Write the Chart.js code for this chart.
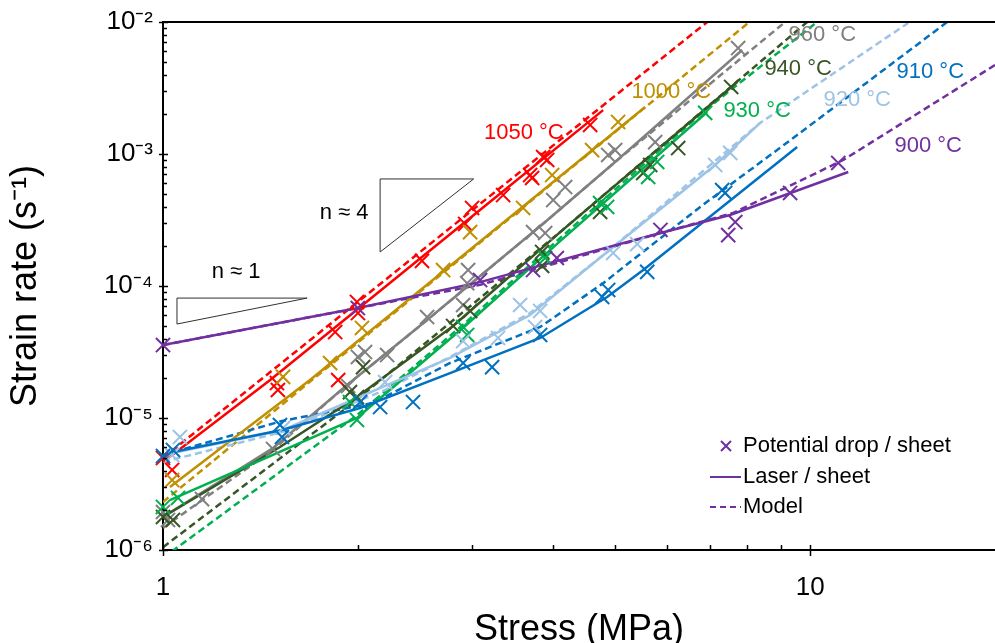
<!DOCTYPE html>
<html lang="en">
<head>
<meta charset="utf-8">
<title>Strain rate vs stress</title>
<script src="https://cdn.jsdelivr.net/npm/chart.js@4.4.1/dist/chart.umd.min.js"></script>
<style>
  html, body { margin: 0; padding: 0; background: #ffffff; overflow: hidden; }
  canvas { display: block; }
</style>
</head>
<body>
<canvas id="chartCreep" width="995" height="643"></canvas>
<script>
// valores: [stress (MPa), strain rate (1/s)]

// 900 °C
const pd900 = [[1.00, 3.57e-5], [2.00, 6.81e-5], [3.09, 1.11e-4], [3.73, 1.32e-4], [4.06, 1.63e-4], [5.87, 2.66e-4], [7.47, 2.43e-4], [7.66, 3.05e-4], [9.31, 5.07e-4], [11.05, 8.55e-4]];
const laser900 = [[1.00, 3.57e-5], [2.00, 6.81e-5], [3.09, 1.07e-4], [4.11, 1.57e-4], [5.87, 2.52e-4], [7.52, 3.45e-4], [11.45, 7.31e-4]];
const model900 = [[1.00, 3.57e-5], [2.00, 6.81e-5], [3.09, 1.02e-4], [4.11, 1.52e-4], [5.87, 2.52e-4], [7.60, 3.57e-4], [11.25, 9.01e-4], [19.3, 4.72e-3]];

// 910 °C
const pd910 = [[1.00, 5.15e-6], [1.036, 5.73e-6], [1.516, 8.85e-6], [1.527, 7.18e-6], [2.016, 1.32e-5], [2.165, 1.21e-5], [2.434, 1.32e-5], [2.909, 2.61e-5], [3.225, 2.43e-5], [3.826, 4.26e-5], [4.77, 8.26e-5], [4.874, 9.33e-5], [5.60, 1.28e-4], [7.311, 5.33e-4], [7.39, 5.07e-4]];
const laser910 = [[1.00, 5.24e-6], [1.036, 5.53e-6], [1.527, 8.11e-6], [2.016, 1.19e-5], [2.777, 2.19e-5], [3.826, 4.04e-5], [4.856, 8.26e-5], [5.521, 1.32e-4], [9.547, 1.13e-3]];
const model910 = [[1.00, 5.24e-6], [1.527, 9.49e-6], [2.112, 1.30e-5], [2.777, 2.61e-5], [3.826, 4.89e-5], [4.787, 1.05e-4], [6.761, 3.97e-4], [9.413, 1.32e-3], [16.28, 1.0e-2]];

// 920 °C
const pd920 = [[1.033, 5.24e-6], [1.062, 7.18e-6], [1.533, 8.40e-6], [2.204, 1.87e-5], [2.909, 3.83e-5], [3.294, 4.04e-5], [3.563, 7.18e-5], [3.758, 4.89e-5], [3.826, 6.47e-5], [4.961, 1.78e-4], [5.404, 2.08e-4], [7.132, 8.26e-4], [7.523, 1.02e-3]];
const laser920 = [[1.051, 5.53e-6], [1.533, 8.11e-6], [2.204, 1.75e-5], [2.777, 2.85e-5], [3.692, 6.03e-5], [4.856, 1.81e-4], [7.132, 8.26e-4], [8.37, 1.72e-3]];
const model920 = [[1.00, 4.64e-6], [1.527, 7.83e-6], [2.204, 1.63e-5], [2.777, 2.90e-5], [3.692, 6.24e-5], [4.856, 1.81e-4], [8.37, 1.72e-3], [14.17, 9.83e-3]];

// 930 °C
const pd930 = [[1.00, 2.12e-6], [1.055, 2.48e-6], [1.945, 1.32e-5], [1.994, 9.66e-6], [2.909, 4.89e-5], [2.951, 4.26e-5], [3.895, 1.63e-4], [4.736, 4.25e-4], [4.856, 3.97e-4], [5.619, 6.70e-4], [5.802, 8.70e-4], [6.882, 2.05e-3]];
const laser930 = [[1.025, 2.39e-6], [1.994, 1.0e-5], [2.93, 4.98e-5], [4.108, 2.19e-4], [6.932, 2.08e-3]];
const model930 = [[1.00, 8.69e-7], [1.994, 1.05e-5], [2.93, 5.25e-5], [4.108, 2.31e-4], [6.882, 2.15e-3], [10.25, 1.0e-2]];

// 940 °C
const pd940 = [[1.00, 1.78e-6], [1.036, 1.69e-6], [1.945, 1.57e-5], [1.994, 1.44e-5], [2.038, 2.43e-5], [2.807, 4.98e-5], [2.982, 6.47e-5], [3.853, 1.81e-4], [3.853, 1.42e-4], [4.736, 3.64e-4], [5.521, 7.18e-4], [5.659, 8.26e-4], [6.252, 1.11e-3], [7.549, 3.22e-3]];
const laser940 = [[1.00, 1.78e-6], [1.516, 6.03e-6], [1.994, 1.44e-5], [2.807, 4.98e-5], [4.108, 2.56e-4], [7.712, 3.51e-3]];
const model940 = [[1.00, 1.05e-6], [1.945, 1.25e-5], [4.108, 2.56e-4], [9.894, 1.0e-2]];

// 960 °C
const pd960 = [[1.00, 1.94e-6], [1.018, 1.69e-6], [1.149, 2.43e-6], [1.479, 5.83e-6], [1.932, 1.75e-5], [2.001, 2.90e-5], [2.052, 3.16e-5], [2.22, 3.00e-5], [2.559, 5.82e-5], [2.909, 7.18e-5], [2.951, 1.05e-4], [2.961, 1.32e-4], [3.731, 2.56e-4], [3.895, 2.52e-4], [4.008, 4.48e-4], [4.182, 5.62e-4], [4.874, 9.83e-4], [4.996, 1.07e-3], [5.761, 1.23e-3], [7.739, 6.35e-3]];
const laser960 = [[1.00, 1.78e-6], [1.479, 5.93e-6], [1.925, 1.78e-5], [2.559, 5.52e-5], [3.895, 3.05e-4], [4.996, 8.70e-4], [7.851, 6.14e-3]];
const model960 = [[1.00, 1.47e-6], [1.479, 5.73e-6], [1.925, 1.78e-5], [2.559, 5.52e-5], [3.895, 3.05e-4], [4.996, 8.70e-4], [9.15, 1.0e-2]];

// 1000 °C
const pd1000 = [[1.033, 3.39e-6], [1.533, 2.05e-5], [1.812, 2.61e-5], [2.03, 4.81e-5], [2.709, 1.32e-4], [2.982, 2.56e-4], [3.601, 3.90e-4], [3.993, 6.93e-4], [4.603, 1.07e-3], [5.049, 1.75e-3]];
const laser1000 = [[1.025, 3.0e-6], [1.687, 1.94e-5], [3.439, 3.33e-4], [5.559, 2.27e-3]];
const model1000 = [[1.00, 2.31e-6], [2.777, 1.39e-4], [8.02, 9.83e-3]];

// 1050 °C
const pd1050 = [[1.00, 4.98e-6], [1.033, 4.04e-6], [1.50, 1.84e-5], [1.505, 1.63e-5], [1.845, 4.48e-5], [1.865, 1.94e-5], [1.994, 7.57e-5], [2.001, 6.24e-5], [2.513, 1.55e-4], [2.93, 2.95e-4], [3.003, 3.90e-4], [3.354, 4.89e-4], [3.692, 6.93e-4], [3.718, 6.58e-4], [3.867, 9.49e-4], [3.923, 9.01e-4], [4.571, 1.66e-3]];
const laser1050 = [[1.00, 4.64e-6], [1.464, 1.94e-5], [2.93, 3.05e-4], [4.787, 2.15e-3]];
const model1050 = [[1.00, 4.98e-6], [6.932, 1.0e-2]];

// triangulos de pendiente
const trianguloN1 = [[1.051, 8.1e-5], [1.67, 8.1e-5], [1.051, 5.15e-5], [1.051, 8.1e-5]];
const trianguloN4 = [[2.165, 6.47e-4], [3.02, 6.47e-4], [2.165, 1.81e-4], [2.165, 6.47e-4]];

const temperaturas = ['900 °C', '910 °C', '920 °C', '930 °C', '940 °C', '960 °C', '1000 °C', '1050 °C'];
const colores = ['#7030A0', '#0070C0', '#9DC3E6', '#00B050', '#375623', '#808080', '#BF9000', '#FF0000'];
const puntosPD = [pd900, pd910, pd920, pd930, pd940, pd960, pd1000, pd1050];
const lineasLaser = [laser900, laser910, laser920, laser930, laser940, laser960, laser1000, laser1050];
const lineasModelo = [model900, model910, model920, model930, model940, model960, model1000, model1050];

// ejes
const xDecadas = [1, 10];
const yDecadas = [1e-6, 1e-5, 1e-4, 1e-3, 1e-2];

// textos sobre la grafica (posicion en coordenadas de datos)
const etiquetasTemp = [
    { texto: '1050 °C', x: 3.61, y: 1.44e-3, color: '#FF0000' },
    { texto: '1000 °C', x: 6.10, y: 2.95e-3, color: '#BF9000' },
    { texto: '960 °C', x: 10.44, y: 7.97e-3, color: '#808080' },
    { texto: '940 °C', x: 9.58, y: 4.40e-3, color: '#375623' },
    { texto: '930 °C', x: 8.28, y: 2.12e-3, color: '#00B050' },
    { texto: '920 °C', x: 11.82, y: 2.56e-3, color: '#9DC3E6' },
    { texto: '910 °C', x: 15.33, y: 4.18e-3, color: '#0070C0' },
    { texto: '900 °C', x: 15.22, y: 1.15e-3, color: '#7030A0' },
    { texto: 'n ≈ 4', x: 1.905, y: 3.57e-4, color: '#000000' },
    { texto: 'n ≈ 1', x: 1.297, y: 1.28e-4, color: '#000000' }
];

const FUENTE = '"Liberation Sans", Arial, sans-serif';
const SUP = { '-': '⁻', '0': '⁰', '1': '¹', '2': '²', '3': '³', '4': '⁴', '5': '⁵', '6': '⁶', '7': '⁷', '8': '⁸', '9': '⁹' };

function esDecada(v) {
    const l = Math.log10(v);
    return Math.abs(l - Math.round(l)) < 1e-6;
}

function esEntero(v) {
    const m = v / Math.pow(10, Math.floor(Math.log10(v) + 1e-9));
    return Math.abs(m - Math.round(m)) < 1e-6;
}

function potencia(v) {
    const e = String(Math.round(Math.log10(v)));
    return '10' + e.split('').map(c => SUP[c]).join('');
}

function aXY(pares) {
    return pares.map(([x, y]) => ({ x: x, y: y }));
}

function crearDatasets() {
    const datasets = [];
    temperaturas.forEach((t, i) => {
        datasets.push({
            label: t + ' model',
            data: aXY(lineasModelo[i]),
            showLine: true,
            borderColor: colores[i],
            borderWidth: 2.5,
            borderDash: [7, 4],
            pointRadius: 0,
            order: 3
        });
        datasets.push({
            label: t + ' laser',
            data: aXY(lineasLaser[i]),
            showLine: true,
            borderColor: colores[i],
            borderWidth: 2.5,
            pointRadius: 0,
            order: 2
        });
        datasets.push({
            label: t + ' potential drop',
            data: aXY(puntosPD[i]),
            showLine: false,
            pointStyle: 'crossRot',
            pointRadius: 10,
            pointBorderWidth: 2,
            borderColor: colores[i],
            backgroundColor: colores[i],
            clip: false,
            order: 1
        });
    });
    [trianguloN1, trianguloN4].forEach((tri, k) => {
        datasets.push({
            label: k === 0 ? 'n ≈ 1' : 'n ≈ 4',
            data: aXY(tri),
            showLine: true,
            borderColor: '#303030',
            borderWidth: 1,
            pointRadius: 0,
            order: 4
        });
    });
    return datasets;
}

// marco superior, ticks hacia dentro, etiquetas y leyenda
const decoracion = {
    id: 'decoracion',
    afterDraw(chart) {
        const { ctx, chartArea: a, scales: { x, y } } = chart;
        ctx.save();

        ctx.strokeStyle = '#000';
        ctx.lineWidth = 2;
        ctx.beginPath();
        ctx.moveTo(a.left, a.top);
        ctx.lineTo(a.right, a.top);
        ctx.stroke();

        ctx.lineWidth = 1.5;
        y.ticks.forEach(t => {
            if (!esEntero(t.value)) return;
            const py = Math.round(y.getPixelForValue(t.value)) + 0.5;
            const mayor = esDecada(t.value);
            ctx.beginPath();
            ctx.moveTo(a.left - (mayor ? 4 : 0), py);
            ctx.lineTo(a.left + (mayor ? 5 : 4), py);
            ctx.stroke();
        });
        x.ticks.forEach(t => {
            if (!esEntero(t.value) || t.value > x.max) return;
            const px = Math.round(x.getPixelForValue(t.value)) + 0.5;
            const mayor = esDecada(t.value);
            ctx.beginPath();
            ctx.moveTo(px, a.bottom + (mayor ? 6 : 0));
            ctx.lineTo(px, a.bottom - 5);
            ctx.stroke();
        });

        ctx.font = '22px ' + FUENTE;
        ctx.textAlign = 'center';
        ctx.textBaseline = 'middle';
        etiquetasTemp.forEach(e => {
            ctx.fillStyle = e.color;
            ctx.fillText(e.texto, x.getPixelForValue(e.x), y.getPixelForValue(e.y));
        });

        // leyenda
        const lx = a.right - 285, ly = a.bottom - 104;
        const morado = colores[0];
        ctx.strokeStyle = morado;
        ctx.lineWidth = 2;
        ctx.beginPath();
        ctx.moveTo(lx + 11, ly - 5); ctx.lineTo(lx + 21, ly + 5);
        ctx.moveTo(lx + 21, ly - 5); ctx.lineTo(lx + 11, ly + 5);
        ctx.stroke();
        ctx.beginPath();
        ctx.moveTo(lx, ly + 31); ctx.lineTo(lx + 31, ly + 31);
        ctx.stroke();
        ctx.setLineDash([6, 4]);
        ctx.beginPath();
        ctx.moveTo(lx, ly + 61); ctx.lineTo(lx + 31, ly + 61);
        ctx.stroke();
        ctx.setLineDash([]);
        ctx.fillStyle = '#000';
        ctx.textAlign = 'left';
        ctx.fillText('Potential drop / sheet', lx + 33, ly);
        ctx.fillText('Laser / sheet', lx + 33, ly + 31);
        ctx.fillText('Model', lx + 33, ly + 61);

        ctx.restore();
    }
};

const canvas = document.getElementById('chartCreep');
const grafica = new Chart(canvas.getContext('2d'), {
    type: 'scatter',
    data: { datasets: crearDatasets() },
    options: {
        responsive: false,
        animation: false,
        devicePixelRatio: 1,
        layout: {
            autoPadding: false,
            padding: { top: 22, right: 0, bottom: 0, left: 0 }
        },
        plugins: {
            legend: { display: false },
            tooltip: { enabled: false }
        },
        scales: {
            x: {
                type: 'logarithmic',
                min: 1,
                max: 19.3,
                grid: { display: false, drawTicks: false },
                border: { display: true, color: '#000', width: 2 },
                ticks: {
                    autoSkip: false,
                    maxRotation: 0,
                    padding: 22,
                    color: '#000',
                    font: { size: 26, family: FUENTE },
                    callback: v => xDecadas.some(d => Math.abs(d - v) < 1e-9) ? String(v) : ''
                },
                title: {
                    display: true,
                    text: 'Stress (MPa)',
                    color: '#000',
                    font: { size: 36, family: FUENTE },
                    padding: { top: 0, bottom: -9 }
                },
                afterFit(scale) {
                    scale.height = 93;
                    scale.paddingLeft = 0;
                    scale.paddingRight = 0;
                }
            },
            y: {
                type: 'logarithmic',
                min: 1e-6,
                max: 1e-2,
                grid: { display: false, drawTicks: false },
                border: { display: true, color: '#000', width: 2 },
                ticks: {
                    autoSkip: false,
                    padding: 10,
                    color: '#000',
                    font: { size: 26, family: FUENTE },
                    callback: v => yDecadas.some(d => Math.abs(d - v) / d < 1e-6) ? potencia(v) : ''
                },
                title: {
                    display: true,
                    text: 'Strain rate (s⁻¹)',
                    color: '#000',
                    font: { size: 36, family: FUENTE },
                    padding: { top: 4, bottom: 0 }
                },
                afterFit(scale) {
                    scale.width = 163;
                    scale.paddingTop = 0;
                    scale.paddingBottom = 0;
                }
            }
        }
    },
    plugins: [decoracion]
});
</script>
</body>
</html>
